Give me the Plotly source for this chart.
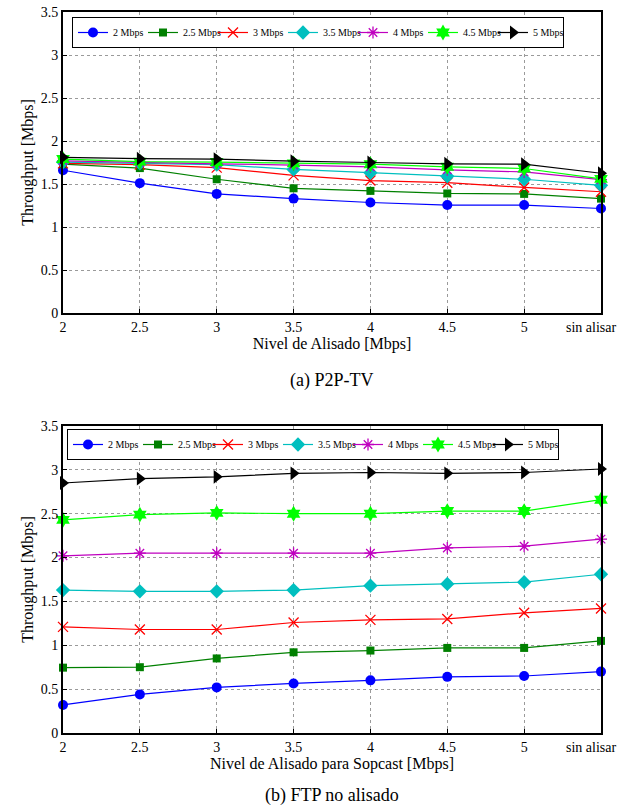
import plotly.graph_objects as go

categories = ["2", "2.5", "3", "3.5", "4", "4.5", "5", "sin alisar"]
series_names = ["2 Mbps", "2.5 Mbps", "3 Mbps", "3.5 Mbps", "4 Mbps", "4.5 Mbps", "5 Mbps"]

p2p_2 = [1.66, 1.51, 1.385, 1.33, 1.285, 1.255, 1.255, 1.215]
p2p_25 = [1.73, 1.685, 1.555, 1.45, 1.42, 1.39, 1.385, 1.33]
p2p_3 = [1.74, 1.725, 1.69, 1.60, 1.54, 1.515, 1.46, 1.41]
p2p_35 = [1.755, 1.74, 1.725, 1.67, 1.63, 1.59, 1.555, 1.485]
p2p_4 = [1.77, 1.75, 1.735, 1.72, 1.70, 1.665, 1.64, 1.55]
p2p_45 = [1.79, 1.76, 1.755, 1.74, 1.73, 1.70, 1.68, 1.56]
p2p_5 = [1.81, 1.795, 1.79, 1.765, 1.75, 1.735, 1.73, 1.625]

ftp_2 = [0.32, 0.44, 0.52, 0.565, 0.60, 0.64, 0.65, 0.70]
ftp_25 = [0.745, 0.75, 0.85, 0.92, 0.94, 0.97, 0.97, 1.05]
ftp_3 = [1.21, 1.18, 1.18, 1.26, 1.29, 1.30, 1.37, 1.42]
ftp_35 = [1.63, 1.615, 1.615, 1.63, 1.68, 1.70, 1.72, 1.81]
ftp_4 = [2.02, 2.05, 2.05, 2.05, 2.05, 2.11, 2.13, 2.21]
ftp_45 = [2.43, 2.49, 2.51, 2.50, 2.50, 2.53, 2.53, 2.66]
ftp_5 = [2.85, 2.90, 2.92, 2.96, 2.97, 2.96, 2.97, 3.01]

y_ticks = [0, 0.5, 1, 1.5, 2, 2.5, 3, 3.5]
y_tick_text = ["0", "0.5", "1", "1.5", "2", "2.5", "3", "3.5"]

colors = ["#0000FF", "#008000", "#FF0000", "#00BFBF", "#BF00BF", "#00FF00", "#000000"]
symbols = ["circle", "square", "x-thin", "diamond", "asterisk", "hexagram", "triangle-right"]
sizes = [10, 8, 10, 11, 10, 12, 12]

FONT = "Liberation Serif"

fig = go.Figure()
xs = list(range(len(categories)))
# the last category label is drawn as an annotation, right-aligned so it stays in the page
tick_text = categories[:-1] + [""]

def add_set(data, xa, ya, legend):
    for name, vals, c, s, sz in zip(series_names, data, colors, symbols, sizes):
        mline = dict(color=c, width=1.3) if s in ("x-thin", "asterisk") else dict(width=0)
        fig.add_trace(go.Scatter(
            x=xs, y=vals, name=name, mode="lines+markers",
            line=dict(color=c, width=1.2),
            marker=dict(symbol=s, size=sz, color=c, line=mline),
            xaxis=xa, yaxis=ya, legend=legend, cliponaxis=False,
        ))

add_set([p2p_2, p2p_25, p2p_3, p2p_35, p2p_4, p2p_45, p2p_5], "x", "y", "legend")
add_set([ftp_2, ftp_25, ftp_3, ftp_35, ftp_4, ftp_45, ftp_5], "x2", "y2", "legend2")

W, H = 624, 808
def px_x(v):
    return v / W
def px_y(v):
    return 1 - v / H

xdom = [px_x(63), px_x(601)]
ydom_top = [px_y(313), px_y(12)]
ydom_bot = [px_y(733), px_y(426)]

xaxis_common = dict(
    range=[0, 7], tickvals=xs, ticktext=tick_text, showgrid=True,
    gridcolor="#9a9a9a", griddash="dot", gridwidth=1,
    showline=True, linecolor="black", linewidth=2, mirror=True,
    ticks="inside", ticklen=4, tickcolor="black", zeroline=False,
    ticklabeloverflow="allow", automargin=False,
    tickfont=dict(family=FONT, size=14, color="black"),
    title_font=dict(family=FONT, size=16, color="black"), title_standoff=2,
)
yaxis_common = dict(
    range=[0, 3.5], tickvals=y_ticks, ticktext=y_tick_text, showgrid=True,
    gridcolor="#9a9a9a", griddash="dot", gridwidth=1,
    showline=True, linecolor="black", linewidth=2, mirror=True,
    ticks="inside", ticklen=4, tickcolor="black", zeroline=False,
    ticklabeloverflow="allow", automargin=False,
    tickfont=dict(family=FONT, size=14, color="black"),
    title=dict(text="Throughput [Mbps]", font=dict(family=FONT, size=16, color="black"), standoff=3),
)

legend_common = dict(
    orientation="h", xanchor="center", yanchor="top",
    bgcolor="white", bordercolor="black", borderwidth=1,
    font=dict(family=FONT, size=10, color="black"),
    itemwidth=30, tracegroupgap=0, entrywidth=25,
)

annotations = [
    dict(text="(a) P2P-TV", x=px_x(332), y=px_y(380), xref="paper", yref="paper",
         xanchor="center", yanchor="middle",
         showarrow=False, font=dict(family=FONT, size=18, color="black")),
    dict(text="(b) FTP no alisado", x=px_x(332), y=px_y(795), xref="paper", yref="paper",
         xanchor="center", yanchor="middle",
         showarrow=False, font=dict(family=FONT, size=18, color="black")),
]
for xr, yr in (("x", "y"), ("x2", "y2")):
    annotations.append(dict(
        text=categories[-1], x=xs[-1], y=0, xref=xr, yref=yr,
        xanchor="right", yanchor="top", xshift=17, yshift=-5,
        showarrow=False, font=dict(family=FONT, size=14, color="black"),
    ))

fig.update_layout(
    width=W, height=H, margin=dict(l=0, r=0, t=0, b=0),
    paper_bgcolor="white", plot_bgcolor="white",
    xaxis=dict(domain=xdom, anchor="y", title=dict(text="Nivel de Alisado [Mbps]"), **xaxis_common),
    yaxis=dict(domain=ydom_top, anchor="x", **yaxis_common),
    xaxis2=dict(domain=xdom, anchor="y2", title=dict(text="Nivel de Alisado para Sopcast [Mbps]"), **xaxis_common),
    yaxis2=dict(domain=ydom_bot, anchor="x2", **yaxis_common),
    legend=dict(x=px_x(318), y=px_y(17), **legend_common),
    legend2=dict(x=px_x(313), y=px_y(429), **legend_common),
    showlegend=True,
    annotations=annotations,
)

fig.write_html("out.html", config={"displayModeBar": False},
               post_script="document.body.style.margin='0px';")
